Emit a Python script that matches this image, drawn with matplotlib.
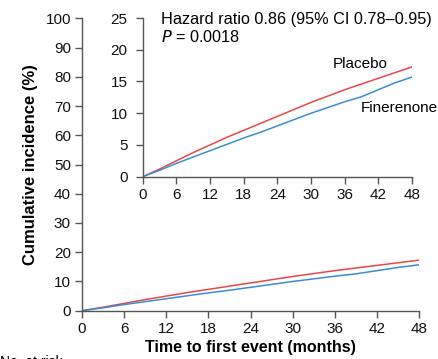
import matplotlib.pyplot as plt
import numpy as np

plt.rcParams['font.family'] = ['Liberation Sans', 'DejaVu Sans']

months = [0, 3, 6, 9, 12, 15, 18, 21, 24, 27, 30, 33, 36, 39, 42, 45, 48]
placebo = [0, 1.2, 2.5, 3.8, 5.0, 6.2, 7.3, 8.4, 9.5, 10.6, 11.7, 12.7, 13.7, 14.6, 15.5, 16.4, 17.3]
finerenone = [0, 1.0, 2.1, 3.1, 4.1, 5.1, 6.1, 7.0, 8.0, 9.0, 10.0, 10.9, 11.8, 12.6, 13.7, 14.8, 15.7]
xticks = [0, 6, 12, 18, 24, 30, 36, 42, 48]

red = '#e8474a'
blue = '#3a8dd3'
spine_col = '#555555'


def style(ax, ypad):
	for s in ['top', 'right']:
		ax.spines[s].set_visible(False)
	for s in ['left', 'bottom']:
		ax.spines[s].set_color(spine_col)
		ax.spines[s].set_linewidth(1.0)
	ax.tick_params(direction='out', length=5, width=1.0, color=spine_col,
		labelsize=11, labelcolor='#111111')
	ax.tick_params(axis='x', pad=3)
	ax.tick_params(axis='y', pad=ypad)


fig = plt.figure(figsize=(4.39, 3.59), dpi=100)
ax = fig.add_axes([0.1868, 0.1345, 0.7677, 0.8145])
ax.plot(months, placebo, color=red, lw=1.1)
ax.plot(months, finerenone, color=blue, lw=1.1)
ax.set_xlim(0, 48)
ax.set_ylim(0, 100)
ax.set_xticks(xticks)
ax.set_yticks(np.arange(0, 101, 10))
style(ax, 3)
ax.set_ylabel('Cumulative incidence (%)', fontsize=12, fontweight='bold', labelpad=5)
ax.set_xlabel('Time to first event (months)', fontsize=11.5, fontweight='bold', labelpad=3)

ins = fig.add_axes([0.325, 0.5078, 0.6134, 0.442])
ins.plot(months, placebo, color=red, lw=1.1)
ins.plot(months, finerenone, color=blue, lw=1.1)
ins.set_xlim(0, 48)
ins.set_ylim(0, 25)
ins.set_xticks(xticks)
ins.set_yticks(np.arange(0, 26, 5))
style(ins, 6)
ins.text(3.3, 24.7, 'Hazard ratio 0.86 (95% CI 0.78\u20130.95)', fontsize=11.7, va='center')
ins.text(3.3, 22.0, r'$\it{P}$ = 0.0018', fontsize=11.7, va='center')
ins.text(33.9, 17.7, 'Placebo', fontsize=11, va='center')
ins.text(38.9, 10.8, 'Finerenone', fontsize=11, va='center')

fig.text(0.0, 0.011, 'No. at risk', fontsize=10, va='top')

plt.savefig('out.png', dpi=100)
plt.close()
